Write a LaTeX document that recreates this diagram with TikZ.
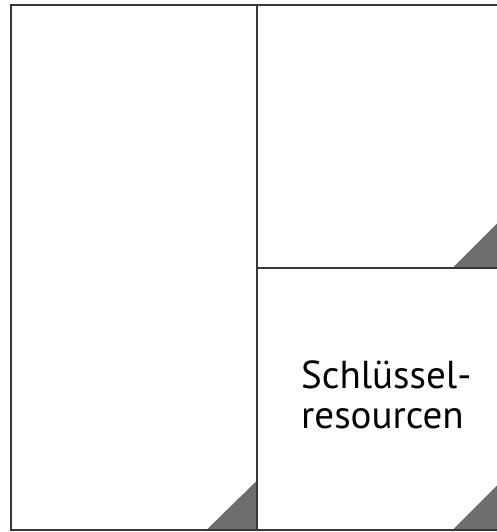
\documentclass[tikz,border=0pt]{standalone}
\usepackage{fontspec}
\setmainfont{PT Sans}
\definecolor{frame}{HTML}{383838}
\definecolor{corner}{HTML}{6E6E6E}
\begin{document}
\begin{tikzpicture}[x=1pt,y=-1pt,
  panel/.style={draw=frame,line width=2.2pt},
  dogear/.style={fill=corner,draw=frame!80,line width=0.6pt}]
\useasboundingbox (0,0) rectangle (497,532);
\clip (0,0) rectangle (497,532);
\fill[white] (0,0) rectangle (497,532);
% folded corners of the panels
\filldraw[dogear] (207,530) -- (257,530) -- (257,481) -- cycle;
\filldraw[dogear] (453,268) -- (502,268) -- (502,219) -- cycle;
\filldraw[dogear] (453,530) -- (502,530) -- (502,481) -- cycle;
% canvas grid
\draw[panel] (510,5) -- (11,5) -- (11,530) -- (510,530);
\draw[panel] (257,5) -- (257,530);
\draw[panel] (257,268) -- (510,268);
\node[anchor=base west,inner sep=0pt,align=left,font=\fontsize{39}{40}\selectfont]
  (keyres) at (301,428) {Schlüssel-\\resourcen};
\end{tikzpicture}
\end{document}
